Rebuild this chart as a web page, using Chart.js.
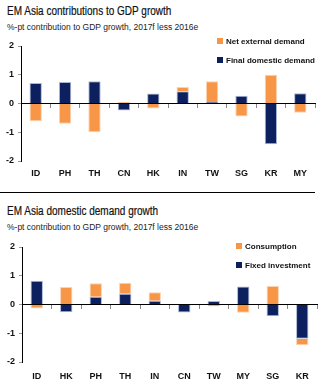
<!DOCTYPE html>
<html>
<head>
<meta charset="utf-8">
<script src="https://cdn.jsdelivr.net/npm/chart.js@4.4.1/dist/chart.umd.min.js"></script>
<style>
  body { margin: 0; width: 330px; height: 385px; background: #fff; position: relative; overflow: hidden; }
  .title { position: absolute; left: 7px; font: 12.5px "Liberation Sans", Arial, sans-serif; color: #111; white-space: nowrap; transform: scaleX(0.8); transform-origin: left center; -webkit-text-stroke: 0.2px #111; }
  .sub { position: absolute; left: 7px; font: 8.5px "Liberation Sans", Arial, sans-serif; color: #222; white-space: nowrap; }
  .legend { position: absolute; font: bold 8px "Liberation Sans", Arial, sans-serif; color: #111; }
  .legend div { height: 19px; line-height: 12px; white-space: nowrap; }
  .legend span { display: inline-block; width: 6px; height: 6px; margin-right: 3px; vertical-align: 0px; }
  .box { position: absolute; left: 0; width: 330px; }
  .rule { position: absolute; left: 0; top: 192px; width: 315px; height: 1px; background: #000; }
</style>
</head>
<body>
<div class="title" style="top:4px">EM Asia contributions to GDP growth</div>
<div class="sub" style="top:22px">%-pt contribution to GDP growth, 2017f less 2016e</div>
<div class="box" style="top:0;height:182px"><canvas id="gdpChart"></canvas></div>
<div class="legend" style="left:217px;top:36px">
  <div><span style="background:#F79646"></span>Net external demand</div>
  <div><span style="background:#0C1F5E"></span>Final domestic demand</div>
</div>

<div class="rule"></div>
<div class="title" style="top:204px">EM Asia domestic demand growth</div>
<div class="sub" style="top:222px">%-pt contribution to GDP growth, 2017f less 2016e</div>
<div class="box" style="top:190px;height:195px"><canvas id="demandChart"></canvas></div>
<div class="legend" style="left:236px;top:241px">
  <div><span style="background:#F79646"></span>Consumption</div>
  <div><span style="background:#0C1F5E"></span>Fixed investment</div>
</div>

<script>
const ORANGE = '#F79646';
const NAVY = '#0C1F5E';

// contributions to GDP growth, 2017f less 2016e
const gdpCountries = ['ID', 'PH', 'TH', 'CN', 'HK', 'IN', 'TW', 'SG', 'KR', 'MY'];
const finalDomestic = [0.71, 0.75, 0.77, -0.24, 0.35, 0.43, 0.05, 0.27, -1.42, 0.36];
const netExternal = [-0.62, -0.70, -1.00, 0.05, -0.17, 0.14, 0.72, -0.45, 1.00, -0.32];

// domestic demand breakdown
const demandCountries = ['ID', 'HK', 'PH', 'TH', 'IN', 'CN', 'TW', 'MY', 'SG', 'KR'];
const fixedInvestment = [0.83, -0.27, 0.27, 0.37, 0.13, -0.28, 0.12, 0.63, -0.41, -1.19];
const consumption = [-0.14, 0.61, 0.47, 0.39, 0.30, 0.0, -0.07, -0.29, 0.64, -0.23];

const yTicks = [-2, -1, 0, 1, 2];

function makeChart(id, labels, blue, orange, opts) {
    const tickFont = { family: 'Liberation Sans, Arial, sans-serif', size: 9, weight: 'bold' };
    return new Chart(document.getElementById(id), {
        type: 'bar',
        data: {
            labels,
            datasets: [
                { data: blue, backgroundColor: NAVY, borderColor: '#aab6d6', borderWidth: 1, barPercentage: 0.42, categoryPercentage: 1 },
                { data: orange, backgroundColor: ORANGE, borderColor: '#fbd2b0', borderWidth: 1, barPercentage: 0.42, categoryPercentage: 1 }
            ]
        },
        options: {
            responsive: true,
            maintainAspectRatio: false,
            animation: false,
            layout: { padding: { top: opts.top, right: opts.right, left: 0, bottom: 0 } },
            plugins: { legend: { display: false }, tooltip: { enabled: false } },
            scales: {
                x: {
                    stacked: true,
                    grid: { display: false, drawTicks: false },
                    border: { display: false },
                    ticks: { font: tickFont, color: '#111', padding: opts.labelPad, maxRotation: 0 },
                    afterFit: (s) => { s.height = opts.xHeight; }
                },
                zero: {
                    type: 'category',
                    axis: 'x',
                    position: { y: 0 },
                    grid: { offset: true, drawOnChartArea: false, tickLength: 4, color: '#888' },
                    border: { color: '#000', width: 1 },
                    ticks: { display: false }
                },
                y: {
                    stacked: true,
                    min: -2,
                    max: 2,
                    afterBuildTicks: (s) => { s.ticks = yTicks.map((v) => ({ value: v })); },
                    grid: { drawOnChartArea: false, tickLength: 3, color: '#999' },
                    border: { color: '#000', width: 1 },
                    ticks: { font: tickFont, color: '#111', padding: 4 },
                    afterFit: (s) => { s.width = opts.yWidth; }
                }
            }
        }
    });
}

makeChart('gdpChart', gdpCountries, finalDomestic, netExternal,
    { top: 46, right: 15, xHeight: 21, yWidth: 21, labelPad: 7 });
makeChart('demandChart', demandCountries, fixedInvestment, consumption,
    { top: 57, right: 13, xHeight: 23, yWidth: 22, labelPad: 9 });
</script>
</body>
</html>
